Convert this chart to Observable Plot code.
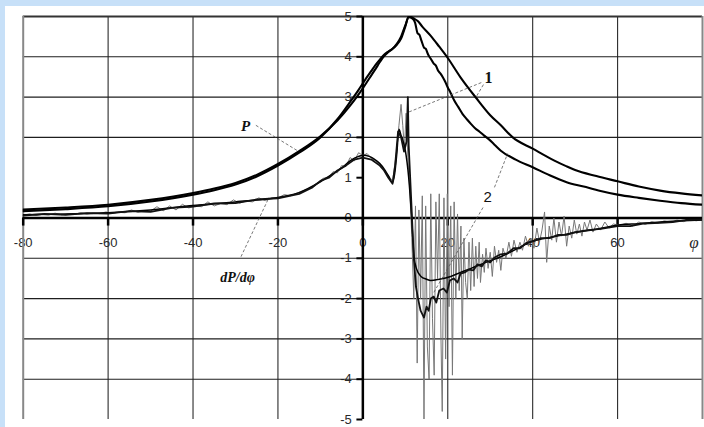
<!DOCTYPE html>
<html>
<head>
<meta charset="utf-8">
<script src="https://cdn.jsdelivr.net/npm/d3@7"></script>
<script src="https://cdn.jsdelivr.net/npm/@observablehq/plot@0.6"></script>
<style>
  html, body { margin: 0; padding: 0; width: 704px; height: 427px; overflow: hidden; background: #c7e0f8; }
  #chart { position: absolute; left: 5px; top: 6px; width: 699px; height: 421px; background: #ffffff; }
</style>
</head>
<body>
<div id="chart"></div>
<script>
// ---- axis ticks ----
const xTicks = [-80, -60, -40, -20, 0, 20, 40, 60];
const xTickLabels = ["-80", "-60", "-40", "-20", "0", "20", "40", "60"];
const xGrid = [-60, -40, -20, 20, 40, 60];
const yTicks = [5, 4, 3, 2, 1, 0, -1, -2, -3, -4, -5];
const yTickLabels = ["5", "4", "3", "2", "1", "0", "-1", "-2", "-3", "-4", "-5"];
const yGrid = [4, 3, 2, -1, -2, -3, -4];
const axisSymbol = "φ";
const axisSymbolPos = 78;

// ---- curve 1: P (smooth)  [phi, P] ----
const curveP1 = [[-80,0.17],[-70,0.22],[-60,0.29],[-50,0.41],[-40,0.58],[-35,0.69],[-30,0.83],[-25,1.03],[-20,1.30],[-15,1.62],[-10,2.0],[-6,2.45],[-3,2.88],[-1,3.18],[0,3.34],[1,3.50],[2,3.65],[3,3.80],[4,3.93],[5,4.05],[6,4.13],[7,4.20],[8,4.30],[9,4.45],[10,4.75],[10.8,5.0],[11.5,4.98],[12,4.95],[13,4.88],[14,4.75],[16,4.52],[18,4.25],[20,3.97],[23,3.49],[26.6,2.99],[30,2.55],[32.5,2.30],[35.3,2.0],[40,1.72],[45,1.43],[48,1.28],[50,1.19],[55,1.04],[60,0.91],[65,0.78],[70,0.68],[75,0.61],[80,0.56]];

// ---- curve 2: P (jagged)  [phi, P] ----
const curveP2 = [[-80,0.21],[-70,0.26],[-60,0.33],[-50,0.45],[-40,0.62],[-35,0.73],[-30,0.87],[-25,1.07],[-20,1.34],[-15,1.66],[-10,2.03],[-6,2.42],[-3,2.79],[-1,3.07],[0,3.22],[1,3.38],[2,3.54],[3,3.70],[4,3.87],[5,4.02],[6,4.12],[7,4.20],[8,4.32],[9,4.50],[10,4.78],[10.8,4.98],[11.7,4.95],[12.3,4.85],[12.9,4.58],[13.3,4.55],[13.8,4.40],[14.4,4.23],[14.8,4.20],[15.4,4.05],[16,3.95],[16.7,3.83],[17.2,3.78],[17.7,3.66],[18.3,3.58],[18.8,3.50],[19.4,3.38],[20,3.24],[20.6,3.12],[21.5,2.92],[22.5,2.75],[23.5,2.58],[24.5,2.45],[25.5,2.33],[26.5,2.22],[27.5,2.14],[28.5,2.05],[29.5,1.97],[31,1.82],[32.5,1.67],[36,1.45],[40,1.26],[44,1.06],[48,0.89],[52,0.78],[56,0.67],[60,0.58],[65,0.50],[70,0.43],[75,0.37],[80,0.33]];

// ---- dP/dphi, curve 1 (smooth)  [phi, dP/dphi] ----
const curveD1 = [[-80,0.08],[-70,0.10],[-60,0.13],[-50,0.20],[-40,0.31],[-30,0.40],[-20,0.51],[-15,0.63],[-10,0.90],[-7,1.10],[-5,1.24],[-3,1.42],[-1,1.53],[0.2,1.56],[1.5,1.53],[2.6,1.47],[4,1.35],[5,1.22],[6,1.05],[7,0.88],[7.5,1.10],[8,1.60],[8.5,2.20],[9,2.05],[9.5,1.90],[10,1.68],[10.8,1.00],[11.5,0.00],[12,-0.90],[12.6,-1.25],[13.7,-1.45],[15,-1.52],[16,-1.55],[18,-1.52],[20.7,-1.45],[23,-1.35],[25.5,-1.25],[29,-1.10],[32.5,-0.96],[36,-0.78],[39.6,-0.59],[43,-0.50],[46.7,-0.43],[50,-0.36],[55,-0.28],[60,-0.18],[65,-0.14],[70,-0.10],[75,-0.07],[80,-0.05]];

// ---- dP/dphi, curve 2 (jagged)  [phi, dP/dphi] ----
const curveD2 = [[-80,0.06],[-75,0.10],[-70,0.08],[-65,0.12],[-60,0.11],[-55,0.17],[-50,0.15],[-45,0.25],[-40,0.28],[-35,0.36],[-30,0.37],[-25,0.46],[-20,0.49],[-15,0.60],[-12,0.75],[-10,0.92],[-8,1.00],[-6,1.18],[-4,1.30],[-2,1.45],[0,1.50],[2,1.45],[4,1.30],[5,1.18],[6,1.00],[7,0.85],[7.6,1.30],[8.3,2.15],[9,2.00],[9.7,1.65],[10.3,1.90],[10.6,3.00],[10.8,1.80],[11.5,0.20],[12,-1.00],[12.5,-1.70],[13,-2.00],[13.6,-2.30],[14.4,-2.47],[15,-2.20],[15.5,-2.30],[16,-2.00],[16.7,-1.95],[17.3,-2.10],[18,-1.80],[19,-1.75],[19.8,-1.85],[20.5,-1.55],[21.4,-1.50],[22.3,-1.60],[23,-1.38],[24,-1.35],[25,-1.28],[26,-1.30],[27,-1.15],[28,-1.20],[29,-1.05],[30,-1.10],[31,-0.98],[32.5,-0.90],[34,-0.88],[35.5,-0.75],[37,-0.75],[38.5,-0.62],[40,-0.58],[42,-0.50],[44,-0.50],[46,-0.42],[48,-0.42],[50,-0.35],[53,-0.30],[56,-0.27],[60,-0.20],[63,-0.20],[66,-0.14],[70,-0.12],[73,-0.10],[76,-0.05],[80,-0.04]];

// ---- dP/dphi, raw noisy (grey)  [phi, dP/dphi] ----
const curveRaw = [[-80,0.07],[-78.5,0.10],[-77,0.06],[-75.5,0.09],[-74,0.07],[-72.5,0.12],[-71,0.08],[-69.5,0.10],[-68,0.09],[-66.5,0.13],[-65,0.10],[-63.5,0.12],[-62,0.11],[-60.5,0.15],[-59,0.12],[-57.5,0.14],[-56,0.13],[-54.5,0.20],[-53,0.14],[-51.5,0.18],[-50,0.17],[-48.5,0.28],[-47,0.18],[-45.5,0.30],[-44,0.20],[-42.5,0.34],[-41,0.25],[-39.5,0.30],[-38,0.28],[-36.5,0.40],[-35,0.30],[-33.5,0.36],[-32,0.33],[-30.5,0.45],[-29,0.37],[-27.5,0.42],[-26,0.40],[-24.5,0.50],[-23,0.43],[-21.5,0.50],[-20,0.50],[-18.5,0.58],[-17,0.55],[-15.5,0.62],[-14,0.68],[-12.5,0.74],[-11,0.82],[-9.5,0.98],[-8,1.02],[-7,1.15],[-6,1.12],[-5,1.30],[-4,1.28],[-3,1.50],[-2,1.42],[-1,1.62],[0,1.55],[1,1.60],[2,1.48],[3,1.42],[4,1.32],[5,1.20],[6,1.05],[7,0.92],[7.5,1.30],[8,1.70],[8.5,2.30],[9,2.82],[9.4,2.30],[9.8,1.70],[10.2,2.60],[10.6,1.50],[11,0.80],[11.5,-0.40],[12,-2.00],[12.4,0.30],[12.8,-3.60],[13.2,0.20],[13.6,-2.00],[14,0.55],[14.4,-5.00],[14.8,0.30],[15.2,-3.20],[15.6,-4.00],[16,0.60],[16.4,-2.50],[16.8,-3.90],[17.2,0.40],[17.6,-1.50],[18,0.60],[18.4,-3.00],[18.7,-4.80],[19.1,0.50],[19.5,-3.50],[19.9,0.60],[20.3,-2.20],[20.7,0.30],[21.1,-3.90],[21.5,0.40],[21.9,-2.00],[22.3,0.10],[22.7,-1.80],[23.1,-0.20],[23.4,-3.00],[23.8,-0.50],[24.2,-1.60],[24.6,-2.00],[25,-0.60],[25.4,-1.80],[25.8,-0.50],[26.2,-1.70],[26.6,-0.70],[27,-1.50],[27.4,-0.60],[27.7,-1.60],[28.2,-0.90],[28.6,-1.35],[29,-0.75],[29.5,-1.25],[30,-0.85],[30.5,-1.45],[31,-0.70],[31.5,-1.10],[32,-0.80],[32.5,-1.30],[33,-0.75],[33.7,-1.00],[34.4,-0.60],[35,-0.95],[35.6,-0.55],[36.3,-0.85],[37,-0.60],[37.6,-0.80],[38.3,-0.45],[39,-0.70],[39.6,-0.50],[40.3,-0.75],[41,-0.25],[41.6,-0.60],[42.2,-0.30],[42.8,0.15],[43.3,-1.10],[43.9,-0.20],[44.5,-0.55],[45,0.00],[45.6,-0.60],[46.2,-0.10],[46.8,-0.45],[47.4,0.05],[48,-0.70],[48.6,-0.20],[49.2,-0.50],[49.8,-0.05],[50.4,-0.40],[51,-0.15],[51.6,-0.45],[52.2,-0.10],[52.8,-0.30],[53.5,-0.05],[54.2,-0.35],[55,-0.15],[56,-0.30],[57,-0.10],[58,-0.25],[59,-0.15],[60.5,-0.18],[62,-0.13],[63.5,-0.20],[65,-0.10],[66.5,-0.16],[68,-0.09],[69.5,-0.13],[71,-0.07],[72.5,-0.11],[74,-0.05],[75.5,-0.09],[77,-0.04],[78.5,-0.07],[80,-0.04]];

// ---- annotations ----
const labelText  = ["P", "dP/dφ", "1", "2"];
const labelPhi   = [-27.6, -29.5, 29.6, 29.4];
const labelVal   = [2.27, -1.48, 3.48, 0.51];
const labelFont  = ["Liberation Serif", "Liberation Serif", "Liberation Serif", "Liberation Sans"];
const labelStyle = ["italic", "italic", "normal", "normal"];
const labelWeight= ["bold", "bold", "bold", "normal"];
const labelSize  = [15, 14, 16, 15];
const leaderFromPhi = [-25.2, -28.7, 27.9, 28.4, 31.0, 28.3];
const leaderFromVal = [2.30, -0.96, 3.36, 3.31, 0.76, 0.26];
const leaderToPhi   = [-15.4, -22.1, 10.6, 26.6, 34.1, 16.7];
const leaderToVal   = [1.67, 0.51, 2.62, 2.99, 1.60, -1.85];

const toRows = (pairs) => pairs.map(([x, y]) => ({x, y}));
const p1 = toRows(curveP1), p2 = toRows(curveP2);
const d1 = toRows(curveD1), d2 = toRows(curveD2), g = toRows(curveRaw);
const labels = labelText.map((t, i) => ({t, x: labelPhi[i], y: labelVal[i]}));
const leaders = leaderFromPhi.map((x1, i) => ({x1, y1: leaderFromVal[i], x2: leaderToPhi[i], y2: leaderToVal[i]}));
const xLab = xTicks.map((x, i) => ({x, t: xTickLabels[i]}));
const yLab = yTicks.map((y, i) => ({y, t: yTickLabels[i]}));

const chart = Plot.plot({
  width: 699,
  height: 421,
  marginLeft: 17.7,
  marginRight: 2,
  marginTop: 10,
  marginBottom: 8,
  x: {domain: [-80, 80], axis: null},
  y: {domain: [-5, 5], axis: null},
  style: {background: "transparent", fontFamily: "Liberation Sans, Arial, sans-serif"},
  marks: [
    // tick labels
    Plot.text(xLab, {x: "x", y: 0, text: "t", dy: 25, fontSize: 13, fill: "#2a2a2a", fontFamily: "Liberation Sans"}),
    Plot.text([axisSymbol], {x: axisSymbolPos, y: 0, text: d => d, dy: 25, fontSize: 17, fontStyle: "italic", fill: "#2a2a2a", fontFamily: "Liberation Serif"}),
    Plot.text(yLab, {x: 0, y: "y", text: "t", dx: -11, textAnchor: "end", fontSize: 13, fill: "#2a2a2a", fontFamily: "Liberation Sans"}),
    // grid
    Plot.ruleX(xGrid, {y1: -5, y2: 5, stroke: "#2b2b2b", strokeWidth: 1.1}),
    Plot.ruleY(yGrid, {x1: -80, x2: 80, stroke: "#1e1e1e", strokeWidth: 1.1}),
    // frame
    Plot.ruleY([5], {x1: -80, x2: 80, stroke: "#333", strokeWidth: 2}),
    Plot.ruleX([-80], {y1: -5, y2: 5, stroke: "#888", strokeWidth: 2}),
    Plot.ruleX([80], {y1: -5, y2: 5, stroke: "#888", strokeWidth: 2}),
    // axes
    Plot.ruleY([0], {x1: -80, x2: 80, stroke: "#000", strokeWidth: 2.5}),
    Plot.ruleX([0], {y1: -5, y2: 5, stroke: "#000", strokeWidth: 2.5}),
    Plot.ruleX(xTicks, {y1: 0, y2: -0.2, stroke: "#000", strokeWidth: 2.5}),
    Plot.ruleY(yTicks, {x1: -1.4, x2: 0, stroke: "#000", strokeWidth: 2}),
    // curves
    Plot.line(g, {x: "x", y: "y", stroke: "#777", strokeWidth: 1, clip: true}),
    Plot.line(d1, {x: "x", y: "y", stroke: "#000", strokeWidth: 1.5, curve: "monotone-x", clip: true}),
    Plot.line(d2, {x: "x", y: "y", stroke: "#111", strokeWidth: 1.8, clip: true}),
    Plot.line(p1, {x: "x", y: "y", stroke: "#000", strokeWidth: 2.1, curve: "monotone-x", clip: true}),
    Plot.line(p2, {x: "x", y: "y", stroke: "#000", strokeWidth: 2.1, curve: "monotone-x", clip: true}),
    // annotations
    Plot.link(leaders, {x1: "x1", y1: "y1", x2: "x2", y2: "y2", stroke: "#555", strokeWidth: 0.8, strokeDasharray: "3,2"}),
    ...labels.map((d, i) => Plot.text([d], {x: "x", y: "y", text: "t", fontSize: labelSize[i], fontStyle: labelStyle[i], fontWeight: labelWeight[i], fontFamily: labelFont[i], fill: "#111"}))
  ]
});
document.getElementById("chart").appendChild(chart);
</script>
</body>
</html>
